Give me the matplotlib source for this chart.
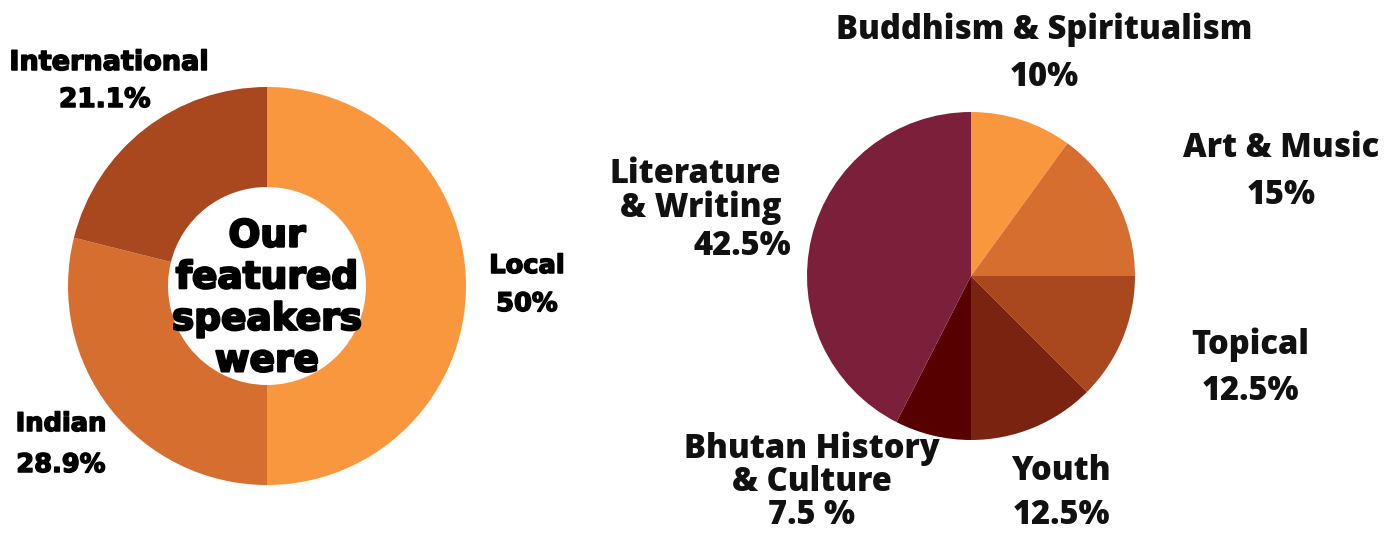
import matplotlib
matplotlib.use("Agg")
import matplotlib.pyplot as plt
import matplotlib.patheffects as pe

W, H = 1398, 533

# speakers donut
speaker_labels = ["Local", "Indian", "International"]
speaker_values = [50.0, 28.9, 21.1]
speaker_colors = ["#F9973F", "#D66E30", "#A9471F"]

# topics pie
topic_labels = ["Buddhism & Spiritualism", "Art & Music", "Topical", "Youth",
                "Bhutan History\n& Culture", "Literature\n& Writing"]
topic_values = [10, 15, 12.5, 12.5, 7.5, 42.5]
topic_pcts = ["10%", "15%", "12.5%", "12.5%", "7.5 %", "42.5%"]
topic_colors = ["#F9973F", "#D66E30", "#A9471F", "#7A2311", "#560000", "#7C1F3A"]

fig = plt.figure(figsize=(W / 100, H / 100), dpi=100)
ax = fig.add_axes([0, 0, 1, 1])

def Y(y):
    # pixel row -> data y
    return H - y

ax.pie(speaker_values, colors=speaker_colors, startangle=90, counterclock=False,
       center=(267, Y(286)), radius=199, frame=True,
       wedgeprops=dict(width=100, linewidth=0))

ax.pie(topic_values, colors=topic_colors, startangle=90, counterclock=False,
       center=(971, Y(276)), radius=164, frame=True,
       wedgeprops=dict(linewidth=0))

ax.set_xlim(0, W)
ax.set_ylim(0, H)
ax.set_aspect("equal")
ax.axis("off")

# thicken the donut lettering a bit, the original uses a very heavy face
big = dict(family=["DejaVu Sans"], weight="bold", color="black",
           path_effects=[pe.withStroke(linewidth=1.6, foreground="black")])
heavy = dict(family=["DejaVu Sans"], weight="bold", color="black",
             path_effects=[pe.withStroke(linewidth=1.1, foreground="black")])
sans = dict(family=["Open Sans", "DejaVu Sans"], weight=800, color="#111111")

# donut labels
ax.text(267, Y(299), "Our\nfeatured\nspeakers\nwere", ha="center", va="center",
        fontsize=27, linespacing=1.2, **big)
ax.text(109, Y(63), speaker_labels[2], ha="center", va="center", fontsize=19.5, **heavy)
ax.text(105, Y(100), f"{speaker_values[2]}%", ha="center", va="center", fontsize=19, **heavy)
ax.text(527, Y(266), speaker_labels[0], ha="center", va="center", fontsize=18.5, **heavy)
ax.text(527, Y(304), f"{speaker_values[0]:.0f}%", ha="center", va="center", fontsize=18.5, **heavy)
ax.text(61, Y(424), speaker_labels[1], ha="center", va="center", fontsize=18.5, **heavy)
ax.text(61, Y(465), f"{speaker_values[1]}%", ha="center", va="center", fontsize=18.5, **heavy)

# pie labels
fs = 23.5
ax.text(1044, Y(30), topic_labels[0], ha="center", va="center", fontsize=fs, **sans)
ax.text(1044, Y(77), topic_pcts[0], ha="center", va="center", fontsize=fs, **sans)
ax.text(1281, Y(148), topic_labels[1], ha="center", va="center", fontsize=fs, **sans)
ax.text(1281, Y(195), topic_pcts[1], ha="center", va="center", fontsize=fs, **sans)
ax.text(1250, Y(345), topic_labels[2], ha="center", va="center", fontsize=fs, **sans)
ax.text(1250, Y(391), topic_pcts[2], ha="center", va="center", fontsize=fs, **sans)
ax.text(1061, Y(471), topic_labels[3], ha="center", va="center", fontsize=fs, **sans)
ax.text(1061, Y(515), topic_pcts[3], ha="center", va="center", fontsize=fs, **sans)
ax.text(812, Y(465), topic_labels[4], ha="center", va="center", fontsize=fs,
        linespacing=0.95, **sans)
ax.text(812, Y(515), topic_pcts[4], ha="center", va="center", fontsize=fs, **sans)
ax.text(781, Y(191), topic_labels[5], ha="right", va="center", fontsize=fs,
        linespacing=0.95, multialignment="right", **sans)
ax.text(791, Y(246), topic_pcts[5], ha="right", va="center", fontsize=fs, **sans)

fig.savefig("out.png", dpi=100, facecolor="white")
